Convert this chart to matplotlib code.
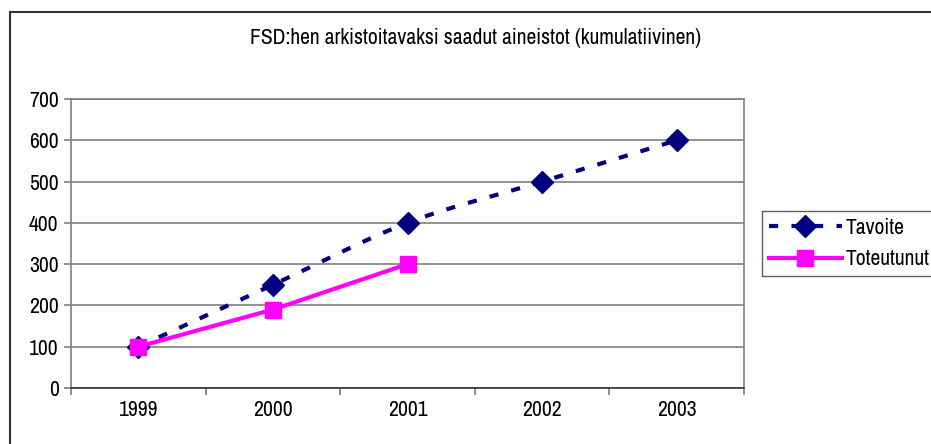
import numpy as np
import matplotlib
matplotlib.use("Agg")
from matplotlib import pyplot as plt
from matplotlib.path import Path
from matplotlib.patches import PathPatch, Rectangle
from matplotlib.lines import Line2D

years = ["1999", "2000", "2001", "2002", "2003"]
tavoite = [100, 250, 400, 500, 600]
toteutunut = [100, 190, 300]
title = "FSD:hen arkistoitavaksi saadut aineistot (kumulatiivinen)"

plt.rcParams['font.family'] = ['Archivo Narrow', 'Liberation Sans', 'DejaVu Sans']

NAVY = "#000080"
MAGENTA = "#FF00FF"
GRID = "#7f7f7f"
FS = 15.6


def smooth_path(xs, ys):
    # Excel-style smoothed line: Catmull-Rom segments as cubic Beziers
    pts = np.column_stack([xs, ys]).astype(float)
    verts = [pts[0]]
    codes = [Path.MOVETO]
    n = len(pts)
    for i in range(n - 1):
        p0 = pts[i - 1] if i > 0 else pts[i]
        p1 = pts[i]
        p2 = pts[i + 1]
        p3 = pts[i + 2] if i + 2 < n else pts[i + 1]
        c1 = p1 + (p2 - p0) / 6.0
        c2 = p2 - (p3 - p1) / 6.0
        verts += [c1, c2, p2]
        codes += [Path.CURVE4] * 3
    return Path(verts, codes)


fig = plt.figure(figsize=(9.31, 4.44), dpi=100)
fig.add_artist(Rectangle((10 / 931, -0.1), 1.2, 1 - 12 / 444 + 0.1,
                         transform=fig.transFigure, fill=False,
                         edgecolor="#333333", linewidth=1.5))

ax = fig.add_axes([71 / 931, 1 - 388 / 444, (744 - 71) / 931, (388 - 99) / 444])

x = np.arange(len(years))
ax.set_xlim(-0.5, len(years) - 0.5)
ax.set_ylim(0, 700)

dash_patch = PathPatch(smooth_path(x, tavoite), fill=False, edgecolor=NAVY,
                       linewidth=3, linestyle=(0, (2.2, 3.2)), zorder=3)
ax.add_patch(dash_patch)
ax.plot(x, tavoite, linestyle='none', marker='D', markersize=11,
        color=NAVY, zorder=4)

ax.plot(x[:len(toteutunut)], toteutunut, color=MAGENTA, linewidth=3,
        marker='s', markersize=11, zorder=5)

ax.set_yticks(np.arange(0, 701, 100))
ax.yaxis.grid(True, color=GRID, linewidth=1.2)
ax.set_axisbelow(True)

ax.set_xticks(np.arange(-0.5, len(years), 1.0))
ax.set_xticklabels([])
ax.set_xticks(x, minor=True)
ax.set_xticklabels(years, minor=True)
ax.tick_params(axis='x', which='minor', length=0, pad=9, labelsize=FS)
ax.tick_params(axis='x', which='major', length=5, color=GRID, width=1.2)
ax.tick_params(axis='y', length=5, color=GRID, width=1.2, labelsize=FS, pad=4)

for s in ax.spines.values():
    s.set_color(GRID)
    s.set_linewidth(1.2)
ax.spines['bottom'].set_color("#333333")

fig.text(476 / 931, 1 - 38 / 444, title, ha='center', va='center', fontsize=FS)

handles = [
    Line2D([], [], color=NAVY, linewidth=3, linestyle=(0, (2.2, 3.2)),
           marker='D', markersize=11),
    Line2D([], [], color=MAGENTA, linewidth=3, marker='s', markersize=11),
]
leg = fig.legend(handles, ["Tavoite", "Toteutunut"], loc='upper left',
                 bbox_to_anchor=(762 / 931, 1 - 211 / 444), fontsize=FS,
                 frameon=True, fancybox=False, handlelength=3.4,
                 handletextpad=0.15, borderpad=0.3, labelspacing=0.55,
                 borderaxespad=0)
leg.get_frame().set_edgecolor("#333333")
leg.get_frame().set_linewidth(1.0)

fig.savefig("out.png", dpi=100)
